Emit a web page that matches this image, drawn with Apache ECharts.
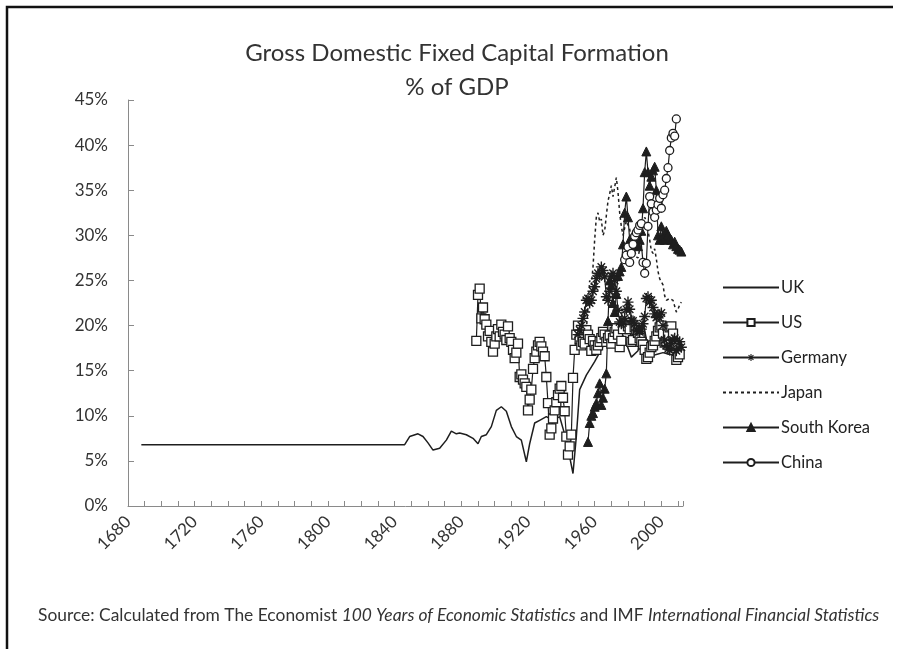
<!DOCTYPE html>
<html><head><meta charset="utf-8">
<script src="https://cdn.jsdelivr.net/npm/echarts@6/dist/echarts.min.js"></script>
<style>html,body{margin:0;padding:0;background:#fff}#c{width:898px;height:649px}</style>
</head><body><div id="c"></div>
<script>
// ---- data ----
const titleLines = ['Gross Domestic Fixed Capital Formation', '% of GDP'];
const yTicks = [0, 5, 10, 15, 20, 25, 30, 35, 40, 45];
const xLabelYears = [1680, 1720, 1760, 1800, 1840, 1880, 1920, 1960, 2000];

const ukYears = [1688,1846,1849,1854,1857,1860,1863,1867,1871,1874,1877,1879,1883,1887,1890,1892,1895,1898,1901,1904,1907,1910,1913,1916,1919,1921,1924,1927,1931,1935,1939,1943,1947,1949,1951,1955,1960,1965,1970,1974,1978,1982,1986,1989,1993,1997,2001,2005,2008,2010,2012];
const ukValues = [6.8,6.8,7.7,8.0,7.7,7.0,6.2,6.4,7.3,8.3,8.0,8.1,7.9,7.5,6.9,7.7,7.9,8.8,10.6,11.0,10.5,8.8,7.7,7.3,4.9,6.9,9.2,9.5,9.9,9.5,9.9,7.3,3.6,7.7,12.9,14.5,16.0,17.7,18.8,20.0,18.5,16.5,17.2,20.5,16.5,16.8,17.0,16.8,16.8,16.3,16.5];

const usStart = 1889;
const usValues = [18.3,23.4,24.1,20.8,22.0,20.7,20.1,18.8,19.4,18.2,17.1,18.0,18.8,19.6,18.8,20.1,19.3,19.0,18.4,19.9,18.6,18.2,17.3,16.4,17.0,18.0,14.3,14.6,14.0,13.6,13.2,10.6,11.8,12.9,15.2,16.4,17.1,17.8,18.2,17.7,17.1,16.6,14.3,11.4,7.9,8.6,9.7,10.6,11.5,12.3,13.0,13.3,12.0,10.5,7.7,5.7,6.6,7.9,14.2,17.3,19.0,
  20.0,18.5,17.8,18.2,18.0,19.5,19.0,18.5,17.2,18.3,17.8,17.3,17.8,18.2,18.6,19.3,19.0,18.2,18.6,18.9,18.0,18.6,19.3,19.7,19.0,17.6,18.3,19.6,20.5,21.0,19.9,19.6,18.2,18.4,19.8,19.5,19.2,18.6,18.2,17.9,17.3,16.3,16.5,17.0,17.6,17.8,18.3,18.8,19.4,19.8,20.0,19.1,18.1,18.2,19.0,19.8,19.9,19.1,17.9,16.2,16.5,16.8];

const deStart = 1950;
const deValues = [19.0,19.5,20.0,20.8,21.5,22.8,23.0,22.5,22.8,23.8,24.3,25.2,25.8,25.6,26.5,26.1,25.4,23.2,22.8,23.8,25.5,25.8,25.0,23.8,21.7,20.4,20.2,20.3,20.8,21.8,22.6,21.8,20.6,20.5,20.2,19.5,19.4,19.3,19.6,20.2,21.0,23.0,23.2,22.6,22.8,22.0,21.3,20.9,21.0,21.2,21.4,20.0,18.4,17.8,17.4,17.3,18.0,18.4,18.6,17.2,17.5,18.2,17.6];

const jpStart = 1955;
const jpValues = [19.5,22.0,25.0,24.5,26.5,29.5,32.0,32.5,31.5,31.8,30.0,30.5,32.2,33.8,34.6,35.5,34.3,34.2,36.4,34.8,32.5,31.0,30.0,30.2,31.6,31.6,30.7,29.6,28.0,27.7,27.7,27.5,28.5,30.0,31.0,32.0,31.6,30.5,29.5,28.3,28.0,28.5,27.4,26.0,25.2,25.2,24.5,23.3,22.8,22.8,23.0,23.1,22.8,22.6,21.5,21.8,22.3,22.6];

const krStart = 1956;
const krValues = [7.1,9.2,10.0,10.3,11.0,11.4,12.5,13.6,11.2,12.0,13.0,14.7,20.5,25.0,24.5,22.5,21.5,23.5,25.5,26.0,26.5,29.0,32.5,34.3,32.0,29.5,28.5,29.0,29.5,29.0,28.8,29.5,30.5,33.0,37.0,39.3,37.0,35.5,36.5,37.2,37.6,35.0,30.0,29.5,31.0,30.0,29.5,30.5,30.0,29.6,29.5,29.0,29.3,28.8,28.5,28.4,28.2];

const cnStart = 1978;
const cnValues = [27.3,27.8,28.7,27.0,28.0,29.0,29.9,30.3,30.6,31.1,31.3,27.0,25.8,26.9,31.0,34.3,33.5,32.6,32.0,32.8,33.4,34.1,33.0,34.5,35.0,36.3,37.5,39.4,40.8,41.3,41.0,42.9];

const sourceParts = [
  ['n', 'Source: Calculated from The Economist '],
  ['i', '100 Years of Economic Statistics'],
  ['n', ' and IMF '],
  ['i', 'International Financial Statistics']
];

// ---- chart ----
const FONT = 'Lato, "Open Sans", sans-serif';
const INK = '#1e1e1e';
const CLEAR = 'rgba(0,0,0,0)';
const pairs = (start, vals) => vals.map((v, i) => [start + i, v]);
const ukData = ukYears.map((y, i) => [y, ukValues[i]]);

const chart = echarts.init(document.getElementById('c'), null, {renderer: 'canvas'});
const base = {type: 'line', symbolSize: 8, lineStyle: {color: INK, width: 1.2}, itemStyle: {color: '#fff', borderColor: INK, borderWidth: 1.3}, animation: false, z: 2};
const asterisk = 'path://M0,5L10,5M5,0L5,10M1.6,1.6L8.4,8.4M8.4,1.6L1.6,8.4';

chart.setOption({
  backgroundColor: '#fff',
  animation: false,
  title: {
    text: titleLines.join('\n'),
    left: 452, top: 31, textAlign: 'center',
    textStyle: {fontFamily: FONT, fontSize: 24, fontWeight: 'normal', color: '#333', lineHeight: 34}
  },
  grid: {left: 128, right: 215, top: 100, bottom: 143, containLabel: false},
  legend: {
    orient: 'vertical', left: 717, top: 274,
    itemWidth: 56, itemHeight: 9, itemGap: 18,
    textStyle: {fontFamily: FONT, fontSize: 16.5, color: '#222', padding: [0, 0, 0, -3]},
    data: [
      {name: 'UK', itemStyle: {color: CLEAR, borderColor: CLEAR, borderWidth: 0, opacity: 0}},
      {name: 'US'},
      {name: 'Germany', itemStyle: {color: INK, borderColor: INK, borderWidth: 1.1}},
      {name: 'Japan', itemStyle: {color: CLEAR, borderColor: CLEAR, borderWidth: 0, opacity: 0}},
      {name: 'South Korea'},
      {name: 'China'}
    ]
  },
  xAxis: {
    type: 'value', min: 1680, max: 2013, interval: 10,
    splitLine: {show: false},
    axisLine: {lineStyle: {color: '#8a8a8a', width: 1}},
    axisTick: {inside: true, length: 5, lineStyle: {color: '#8a8a8a'}},
    axisLabel: {
      rotate: 45, margin: 13, fontFamily: FONT, fontSize: 17, color: '#333',
      formatter: v => xLabelYears.indexOf(v) >= 0 ? String(v) : ''
    }
  },
  yAxis: {
    type: 'value', min: 0, max: 45, interval: 5,
    splitLine: {show: false},
    axisLine: {show: true, lineStyle: {color: '#8a8a8a', width: 1}},
    axisTick: {show: true, inside: true, length: 6, lineStyle: {color: '#8a8a8a'}},
    axisLabel: {margin: 20, fontFamily: FONT, fontSize: 17, color: '#333',
      formatter: v => yTicks.indexOf(v) >= 0 ? v + '%' : ''}
  },
  series: [
    Object.assign({}, base, {name: 'UK', data: ukData, symbol: 'circle', showSymbol: false, lineStyle: {color: INK, width: 1.5}, itemStyle: {color: INK}}),
    Object.assign({}, base, {name: 'US', data: pairs(usStart, usValues), symbol: 'rect', symbolSize: 9}),
    Object.assign({}, base, {name: 'Germany', data: pairs(deStart, deValues), symbol: asterisk, symbolSize: 11, itemStyle: {color: INK, borderColor: INK, borderWidth: 1.4}}),
    Object.assign({}, base, {name: 'Japan', data: pairs(jpStart, jpValues), symbol: 'circle', showSymbol: false, lineStyle: {color: INK, width: 1.5, type: [3, 3]}, itemStyle: {color: INK}}),
    Object.assign({}, base, {name: 'South Korea', data: pairs(krStart, krValues), symbol: 'triangle', symbolSize: 9, itemStyle: {color: INK, borderColor: INK, borderWidth: 1}}),
    Object.assign({}, base, {name: 'China', data: pairs(cnStart, cnValues), symbol: 'circle', symbolSize: 8})
  ],
  graphic: [
    {type: 'polyline', shape: {points: [[7, 660], [7, 7], [893, 7]]}, style: {stroke: '#111', lineWidth: 2.5, fill: null}, silent: true},
    {type: 'text', left: 38, top: 607, style: {
      text: sourceParts.map(p => '{' + p[0] + '|' + p[1] + '}').join(''),
      rich: {
        n: {fontFamily: FONT, fontSize: 17.4, fill: '#333'},
        i: {fontFamily: FONT, fontSize: 17.4, fontStyle: 'italic', fill: '#333'}
      }
    }}
  ]
});
</script></body></html>
